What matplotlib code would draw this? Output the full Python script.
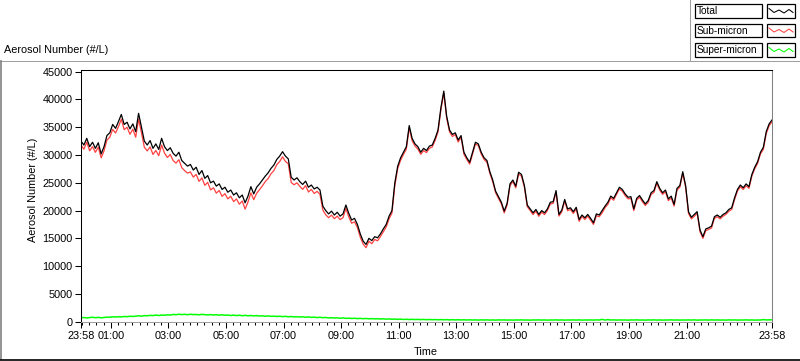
import numpy as np
import matplotlib.pyplot as plt
from matplotlib.lines import Line2D
from matplotlib.patches import Rectangle

plt.rcParams['font.family'] = ['Liberation Sans', 'DejaVu Sans']
plt.rcParams['font.size'] = 7.8

W, H = 800, 361  # figure size in pixels

# total aerosol number, one value every 6 minutes starting 23:58
total = [
    32500, 31800, 33000, 31500, 32300, 31200, 32200, 30200, 31500, 33500,
    34000, 35500, 34800, 36000, 37300, 35500, 35900, 34700, 35600, 34200,
    37500, 35000, 32500, 31800, 32600, 31200, 32000, 31000, 33000, 31500,
    30800, 31300, 30300, 29800, 30500, 29000, 28500, 28000, 28300, 27300,
    27800, 26500, 27200, 25800, 26300, 25000, 25300, 24400, 24800, 23800,
    24200, 23300, 23700, 22800, 23200, 22300, 22800, 21400, 22600, 24300,
    23000, 24200, 24800, 25500, 26200, 26800, 27600, 28200, 29200, 29800,
    30600, 29800, 29300, 26000, 25500, 25900, 25200, 24700, 25300, 24200,
    24600, 23900, 24200, 23700, 20800, 20000, 19400, 19900, 19200, 19700,
    19000, 19400, 21000, 19500, 18300, 18600, 17500, 15800, 14500, 13900,
    15000, 14600, 15300, 15100, 15800, 16700, 17500, 19000, 20000, 25000,
    28000, 29500, 30500, 31500, 35300, 33000, 32000, 31500, 30500, 31200,
    30800, 31600, 31800, 33000, 34500, 38500, 41500, 37000, 34500, 33700,
    34000, 32700, 33500, 30500, 29500, 28700, 30500, 32300, 32000, 30500,
    29500, 29000, 27000, 25500, 23500, 22500, 21500, 19900, 21300, 24800,
    25500, 24400, 26900, 26500, 24500, 21000, 20300, 19600, 20200, 19300,
    20000, 19600, 20300, 21500, 21600, 23600, 19300, 20100, 22000, 20300,
    20500, 19800, 20600, 18400, 19200, 18700, 19300, 18600, 17800, 19400,
    19200, 20000, 20800, 21500, 22600, 22200, 23200, 24200, 23800, 23000,
    22400, 22500, 20300, 22200, 22700, 21900, 21200, 21800, 23200, 23600,
    25200, 24000, 23200, 23700, 22100, 22600, 21100, 24000, 24500, 27000,
    24500, 19800, 18800, 19300, 19800, 16500, 15300, 16700, 16900, 17200,
    18900, 19200, 18800, 19300, 19600, 20200, 20500, 22300, 23800, 24600,
    24100, 24800, 24300, 26500, 27800, 28800, 30500, 31400, 34200, 35600,
    36300,
]

super_micron = [
    700, 760, 680, 740, 800, 720, 780, 700, 760, 820,
    800, 880, 840, 900, 860, 940, 900, 980, 940, 1000,
    1060, 1000, 1100, 1060, 1140, 1100, 1180, 1120, 1200, 1160,
    1240, 1200, 1300, 1260, 1340, 1280, 1320, 1260, 1340, 1280,
    1300, 1240, 1320, 1260, 1220, 1280, 1200, 1260, 1180, 1240,
    1160, 1200, 1120, 1180, 1100, 1160, 1080, 1140, 1060, 1120,
    1040, 1100, 1020, 1060, 980, 1040, 960, 1000, 940, 980,
    920, 960, 880, 940, 860, 900, 840, 880, 800, 860,
    780, 820, 740, 800, 720, 760, 680, 720, 660, 700,
    620, 680, 600, 640, 580, 620, 560, 600, 540, 580,
    520, 560, 500, 540, 480, 520, 460, 500, 440, 480,
    420, 460, 400, 440, 390, 430, 380, 420, 370, 410,
    360, 400, 350, 390, 340, 380, 340, 370, 330, 360,
    320, 360, 310, 350, 300, 340, 300, 330, 290, 330,
    300, 330, 290, 320, 280, 330, 300, 320, 290, 310,
    280, 320, 300, 330, 290, 310, 280, 320, 300, 330,
    290, 320, 280, 310, 300, 330, 290, 320, 280, 310,
    300, 320, 290, 330, 280, 310, 300, 320, 290, 330,
    300, 420, 290, 380, 300, 330, 290, 320, 300, 310,
    280, 320, 300, 330, 290, 310, 280, 320, 300, 330,
    290, 320, 280, 310, 300, 330, 290, 320, 280, 310,
    300, 320, 290, 330, 280, 310, 300, 320, 290, 330,
    300, 320, 290, 310, 280, 330, 300, 320, 290, 310,
    300, 330, 290, 320, 280, 310, 300, 380, 320, 340,
    330,
]

tick_labels = ['23:58', '01:00', '03:00', '05:00', '07:00', '09:00', '11:00',
               '13:00', '15:00', '17:00', '19:00', '21:00', '23:58']
legend_names = ['Total', 'Sub-micron', 'Super-micron']
colors = ['#000000', '#ff4040', '#00ff00']

hours = np.arange(len(total)) * 0.1
total = np.array(total)
super_micron = np.array(super_micron)
sub_micron = total - super_micron

# major ticks: start, every odd hour (62 min after 23:58), end
major_pos = [0] + [(62 + 120 * i) / 60 for i in range(11)] + [24]
minor_pos = np.arange(2 / 60, 24, 0.25)


def fx(x):
    return x / W


def fy(y):
    return 1 - y / H


fig = plt.figure(figsize=(W / 100, H / 100), dpi=100, facecolor='white')

ax = fig.add_axes([fx(81), fy(321.7), (772 - 81) / W, (321.7 - 70) / H])
ax.plot(hours, super_micron, color=colors[2], lw=1.1)
ax.plot(hours, sub_micron, color=colors[1], lw=0.9)
ax.plot(hours, total, color=colors[0], lw=0.9)

ax.set_xlim(0, 24)
ax.set_ylim(0, 45300)
ax.set_yticks(np.arange(0, 45001, 5000))
ax.set_yticklabels([str(v) for v in range(0, 45001, 5000)])
ax.set_xticks(major_pos)
ax.set_xticklabels(tick_labels)
ax.set_xticks(minor_pos, minor=True)
ax.tick_params(axis='both', which='major', direction='out', length=4.5,
               width=0.75, color='black', labelsize=7.8, pad=1.5)
ax.tick_params(axis='x', which='minor', direction='out', length=2.5,
               width=0.75, color='black')
ax.tick_params(axis='x', which='major', pad=2.5)

ax.spines['left'].set_color('black')
ax.spines['top'].set_color('black')
ax.spines['right'].set_color('#808080')
ax.spines['bottom'].set_color('#a0a0a0')
for s in ax.spines.values():
    s.set_linewidth(0.75)

fig.text(fx(33), fy(190), 'Aerosol Number (#/L)', rotation=90,
         ha='center', va='center')
fig.text(fx(426), fy(352), 'Time', ha='center', va='center')
fig.text(fx(4), fy(50), 'Aerosol Number (#/L)', ha='left', va='center')

# panel frame
fig.add_artist(Line2D([0, 1], [fy(61), fy(61)], color='#a0a0a0', lw=0.75))
fig.add_artist(Line2D([fx(690), fx(690)], [fy(0), fy(61)], color='#a0a0a0', lw=0.75))
fig.add_artist(Line2D([fx(0.7), fx(0.7)], [fy(61), fy(359)], color='#808080', lw=1.2))
fig.add_artist(Line2D([0, 1], [fy(359.5), fy(359.5)], color='black', lw=1.2))

# legend
zig_x = [769, 774, 779, 784, 789, 793]
zig_y = [4.5, 8.5, 6, 9, 5.5, 8.5]
for i, (name, c) in enumerate(zip(legend_names, colors)):
    top = 4 + 19.5 * i
    fig.add_artist(Rectangle((fx(695), fy(top + 13.5)), 67 / W, 13.5 / H,
                             facecolor='white', edgecolor='black', lw=0.9))
    fig.text(fx(696.5), fy(top + 7), name, ha='left', va='center', fontsize=7.3)
    fig.add_artist(Rectangle((fx(767), fy(top + 13.5)), 28 / W, 13.5 / H,
                             facecolor='white', edgecolor='black', lw=0.9))
    fig.add_artist(Line2D([fx(v) for v in zig_x],
                          [fy(top + v) for v in zig_y], color=c, lw=0.75))

fig.savefig('out.png', dpi=100, facecolor='white')
